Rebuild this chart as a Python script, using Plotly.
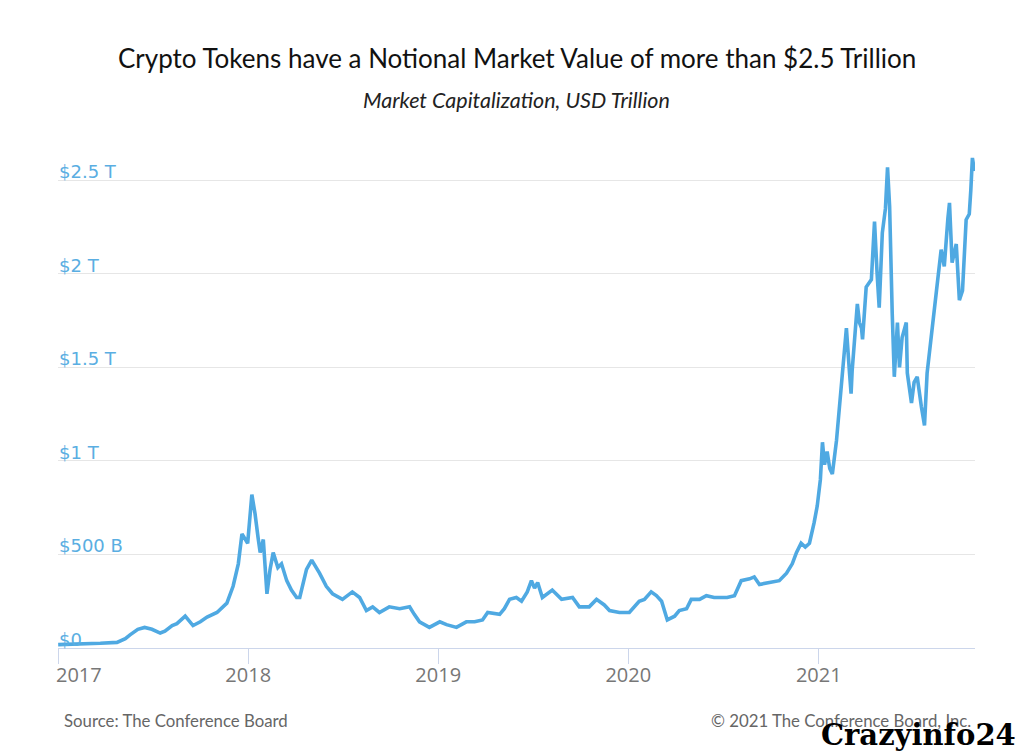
import plotly.graph_objects as go

# Total crypto market capitalization, USD trillion
dates = [
    "2017-01-01", "2017-02-12", "2017-03-23", "2017-04-24", "2017-05-10", "2017-05-19",
    "2017-06-03", "2017-06-16", "2017-06-30", "2017-07-16", "2017-07-25", "2017-08-08",
    "2017-08-17", "2017-09-02", "2017-09-17", "2017-10-01", "2017-10-14", "2017-11-02",
    "2017-11-21", "2017-12-03", "2017-12-13", "2017-12-20", "2017-12-26", "2017-12-31",
    "2018-01-08", "2018-01-14", "2018-01-20", "2018-01-24", "2018-01-30", "2018-02-06",
    "2018-02-12", "2018-02-18", "2018-02-27", "2018-03-06", "2018-03-16", "2018-03-25",
    "2018-04-04", "2018-04-10", "2018-04-23", "2018-05-03", "2018-05-18", "2018-05-31",
    "2018-06-12", "2018-07-01", "2018-07-20", "2018-08-03", "2018-08-16", "2018-08-28",
    "2018-09-10", "2018-09-29", "2018-10-19", "2018-11-07", "2018-11-16", "2018-11-26",
    "2018-12-15", "2018-12-29",
    "2019-01-04", "2019-01-17", "2019-02-05", "2019-02-24", "2019-03-12", "2019-03-27",
    "2019-04-06", "2019-04-29", "2019-05-08", "2019-05-18", "2019-05-31", "2019-06-10",
    "2019-06-21", "2019-06-29", "2019-07-05", "2019-07-11", "2019-07-20", "2019-08-08",
    "2019-08-26", "2019-09-16", "2019-09-29", "2019-10-18", "2019-11-01", "2019-11-16",
    "2019-11-26", "2019-12-15", "2019-12-28",
    "2020-01-03", "2020-01-22", "2020-02-01", "2020-02-14", "2020-02-24", "2020-03-05",
    "2020-03-16", "2020-03-30", "2020-04-08", "2020-04-22", "2020-05-01", "2020-05-17",
    "2020-05-30", "2020-06-14", "2020-06-24", "2020-07-09", "2020-07-23", "2020-08-05",
    "2020-08-21", "2020-08-30", "2020-09-09", "2020-09-28", "2020-10-17", "2020-10-31",
    "2020-11-11", "2020-11-19", "2020-11-28", "2020-12-06", "2020-12-14", "2020-12-23",
    "2020-12-29",
    "2021-01-04", "2021-01-08", "2021-01-12", "2021-01-17", "2021-01-22", "2021-01-27",
    "2021-02-04", "2021-02-13", "2021-02-15", "2021-02-23", "2021-03-01", "2021-03-04",
    "2021-03-06", "2021-03-16", "2021-03-20", "2021-03-24", "2021-03-26", "2021-04-02",
    "2021-04-12", "2021-04-18", "2021-04-23", "2021-04-27", "2021-05-03", "2021-05-09",
    "2021-05-13", "2021-05-17", "2021-05-22", "2021-05-26", "2021-06-01", "2021-06-05",
    "2021-06-10", "2021-06-18", "2021-06-20", "2021-06-28", "2021-07-03", "2021-07-09",
    "2021-07-17", "2021-07-23", "2021-07-28", "2021-08-05", "2021-08-15", "2021-08-24",
    "2021-08-30", "2021-09-06", "2021-09-09", "2021-09-14", "2021-09-18", "2021-09-22",
    "2021-09-28", "2021-10-04", "2021-10-11", "2021-10-17", "2021-10-20", "2021-10-23",
    "2021-10-27",
]
market_cap = [
    0.018, 0.020, 0.025, 0.030, 0.050, 0.070,
    0.100, 0.110, 0.100, 0.080, 0.090, 0.120,
    0.130, 0.170, 0.120, 0.140, 0.165, 0.190,
    0.240, 0.330, 0.450, 0.610, 0.580, 0.560,
    0.820, 0.720, 0.590, 0.510, 0.580, 0.290,
    0.420, 0.510, 0.430, 0.450, 0.360, 0.310,
    0.270, 0.270, 0.420, 0.470, 0.400, 0.330,
    0.290, 0.260, 0.300, 0.270, 0.200, 0.220,
    0.190, 0.220, 0.210, 0.220, 0.180, 0.140,
    0.110, 0.130,
    0.140, 0.125, 0.110, 0.140, 0.140, 0.150,
    0.190, 0.180, 0.210, 0.260, 0.270, 0.250,
    0.300, 0.360, 0.320, 0.350, 0.270, 0.310,
    0.260, 0.270, 0.220, 0.220, 0.260, 0.230,
    0.200, 0.190, 0.190,
    0.190, 0.250, 0.260, 0.300, 0.280, 0.250,
    0.150, 0.170, 0.200, 0.210, 0.260, 0.260,
    0.280, 0.270, 0.270, 0.270, 0.280, 0.360,
    0.370, 0.380, 0.340, 0.350, 0.360, 0.400,
    0.450, 0.510, 0.560, 0.540, 0.560, 0.670,
    0.760,
    0.900, 1.100, 0.980, 1.050, 0.960, 0.930,
    1.110, 1.390, 1.480, 1.710, 1.470, 1.360,
    1.480, 1.840, 1.740, 1.710, 1.650, 1.930,
    1.970, 2.280, 2.000, 1.820, 2.220, 2.350,
    2.570, 2.360, 1.790, 1.450, 1.740, 1.500,
    1.660, 1.740, 1.470, 1.310, 1.420, 1.450,
    1.290, 1.190, 1.470, 1.680, 1.910, 2.130,
    2.040, 2.300, 2.380, 2.060, 2.120, 2.160,
    1.860, 1.910, 2.290, 2.320, 2.450, 2.620,
    2.550,
]

y_tick_vals = [0, 0.5, 1, 1.5, 2, 2.5]
y_tick_text = ["$0", "$500 B", "$1 T", "$1.5 T", "$2 T", "$2.5 T"]
x_tick_vals = ["2017-01-01", "2018-01-01", "2019-01-01", "2020-01-01", "2021-01-01"]
x_tick_text = ["2017", "2018", "2019", "2020", "2021"]

title = "Crypto Tokens have a Notional Market Value of more than $2.5 Trillion"
subtitle = "Market Capitalization, USD Trillion"
source = "Source: The Conference Board"
copyright_text = "© 2021 The Conference Board, Inc."
watermark = "Crazyinfo24"

x_font = dict(size=20, color="#777777", family="Open Sans, sans-serif")

fig = go.Figure()
fig.add_trace(go.Scatter(
    x=dates, y=market_cap, mode="lines",
    line=dict(color="#4fa9e2", width=3.6),
    hoverinfo="skip", showlegend=False,
))

# y-axis labels sit inside the plot, just above each gridline
y_label_annotations = [
    dict(text=t, xref="paper", yref="y", x=0, y=v,
         xanchor="left", yanchor="bottom", showarrow=False, yshift=-4, xshift=-1,
         font=dict(size=18, color="#5aaee2", family="DejaVu Sans, sans-serif"))
    for v, t in zip(y_tick_vals, y_tick_text)
]
# first x label is left-aligned to its tick (kept inside the chart edge)
first_x_label = dict(text=x_tick_text[0], xref="x", yref="paper", x=x_tick_vals[0], y=-0.0534,
                     xanchor="left", yanchor="middle", showarrow=False, xshift=-4,
                     font=x_font)

fig.update_layout(
    width=1024, height=754,
    margin=dict(l=58, r=49, t=142.5, b=106),
    paper_bgcolor="white", plot_bgcolor="white",
    font=dict(family="Lato, sans-serif"),
    xaxis=dict(
        range=["2016-12-31 16:00", "2021-10-28"],
        tickmode="array", tickvals=x_tick_vals, ticktext=[""] + x_tick_text[1:],
        showgrid=False, zeroline=False,
        showline=True, linecolor="#ccd6eb", linewidth=1,
        ticks="outside", ticklen=15, tickcolor="#ccd6eb", tickwidth=1,
        ticklabelstandoff=-6,
        tickfont=x_font,
    ),
    yaxis=dict(
        range=[0, 2.7],
        tickmode="array", tickvals=y_tick_vals,
        showgrid=True, gridcolor="#e6e6e6", gridwidth=1,
        zeroline=False, showline=False, ticks="", showticklabels=False,
    ),
    annotations=y_label_annotations + [first_x_label] + [
        dict(text=title, xref="paper", yref="paper", x=0.5, y=1.168,
             xanchor="center", yanchor="middle", showarrow=False,
             font=dict(size=26, color="#111111", family="Lato, sans-serif")),
        dict(text="<i>" + subtitle + "</i>", xref="paper", yref="paper", x=0.5, y=1.086,
             xanchor="center", yanchor="middle", showarrow=False,
             font=dict(size=21.5, color="#222222", family="Lato, sans-serif")),
        dict(text=source, xref="paper", yref="paper", x=0.004, y=-0.144,
             xanchor="left", yanchor="middle", showarrow=False,
             font=dict(size=16.8, color="#666666", family="Lato, sans-serif")),
        dict(text=copyright_text, xref="paper", yref="paper", x=0.998, y=-0.144,
             xanchor="right", yanchor="middle", showarrow=False,
             font=dict(size=16.8, color="#666666", family="Lato, sans-serif")),
        dict(text="<b>" + watermark + "</b>", xref="paper", yref="paper", x=1.047, y=-0.172,
             xanchor="right", yanchor="middle", showarrow=False,
             font=dict(size=29, color="#000000", family="DejaVu Serif, serif")),
    ],
)

fig.write_html("out.html")
